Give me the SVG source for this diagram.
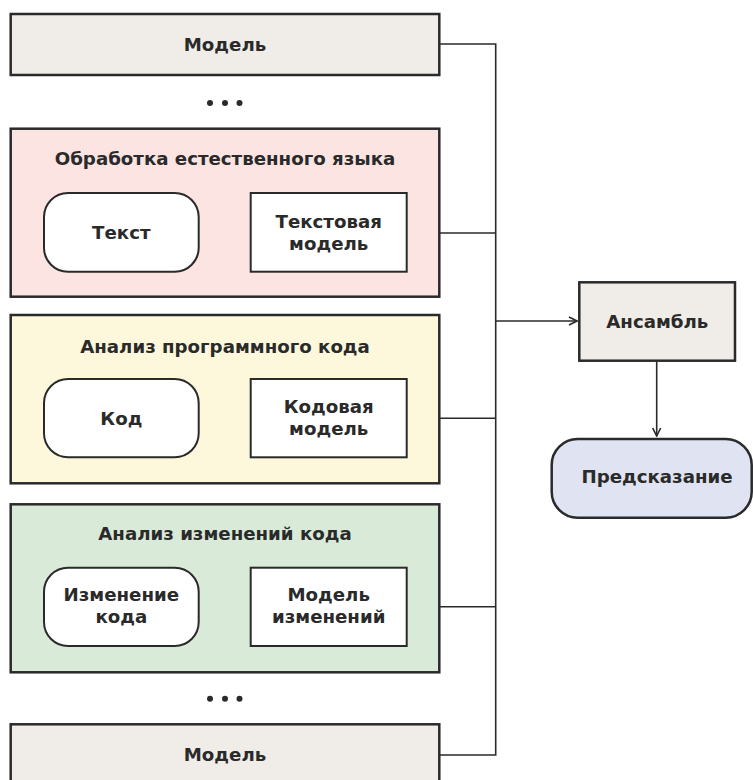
<svg xmlns="http://www.w3.org/2000/svg" width="753" height="780" viewBox="0 0 753 780">
<defs>
<style>
.t{font-family:"DejaVu Sans","Open Sans",sans-serif;font-weight:700;font-size:18.2px;fill:#2a2a2a;text-anchor:middle}
.outer{stroke:#2a2a2a;stroke-width:2.5}
.inner{fill:#ffffff;stroke:#2a2a2a;stroke-width:2}
.c{fill:none;stroke:#2a2a2a;stroke-width:1.6}
.dot{fill:#2a2a2a}
</style>
<marker id="ah" viewBox="0 0 10 10" refX="9" refY="5" markerWidth="10" markerHeight="10" markerUnits="userSpaceOnUse" orient="auto">
<path d="M1,1 L9,5 L1,9" fill="none" stroke="#2a2a2a" stroke-width="1.6"/>
</marker>
</defs>
<rect width="753" height="780" fill="#ffffff"/>

<g id="connectors">
<path class="c" d="M439,44 H495.7 V755 H439"/>
<path class="c" d="M406.7,233 H495.7"/>
<path class="c" d="M406.7,418.3 H495.7"/>
<path class="c" d="M406.7,606.7 H495.7"/>
<path class="c" d="M495.7,321 H577" marker-end="url(#ah)"/>
<path class="c" d="M656.7,360.7 V436" marker-end="url(#ah)"/>
<path class="c" d="M199,233 H248" marker-end="url(#ah)"/>
<path class="c" d="M199,418.3 H248" marker-end="url(#ah)"/>
<path class="c" d="M199,606.7 H248" marker-end="url(#ah)"/>
</g>

<g id="model-top">
<rect class="outer" x="10.7" y="14" width="428.6" height="61" fill="#f0ede8"/>
<text class="t" x="225" y="51">Модель</text>
</g>

<g id="dots-top">
<circle class="dot" cx="210" cy="103" r="3"/>
<circle class="dot" cx="225" cy="103" r="3"/>
<circle class="dot" cx="239.5" cy="103" r="3"/>
</g>

<g id="nlp">
<rect class="outer" x="10.7" y="128.7" width="428.6" height="168" fill="#fce4e2"/>
<text class="t" x="225" y="165">Обработка естественного языка</text>
</g>
<g id="text-node">
<rect class="inner" x="44" y="193" width="154.7" height="78.7" rx="24"/>
<text class="t" x="121.3" y="239.3">Текст</text>
</g>
<g id="text-model">
<rect class="inner" x="250.7" y="193" width="156" height="78.7"/>
<text class="t"><tspan x="328.7" y="228">Текстовая</tspan><tspan x="328.7" y="249.8">модель</tspan></text>
</g>

<g id="code-analysis">
<rect class="outer" x="10.7" y="315" width="428.6" height="168.3" fill="#fdf8dc"/>
<text class="t" x="225" y="352.6">Анализ программного кода</text>
</g>
<g id="code-node">
<rect class="inner" x="44" y="379" width="154.7" height="78.3" rx="24"/>
<text class="t" x="121.3" y="425.3">Код</text>
</g>
<g id="code-model">
<rect class="inner" x="250.7" y="379" width="156" height="78.3"/>
<text class="t"><tspan x="328.7" y="413">Кодовая</tspan><tspan x="328.7" y="434.8">модель</tspan></text>
</g>

<g id="change-analysis">
<rect class="outer" x="10.7" y="504.3" width="428.6" height="168" fill="#d9ead8"/>
<text class="t" x="225" y="540.4">Анализ изменений кода</text>
</g>
<g id="change-node">
<rect class="inner" x="44" y="567.7" width="154.7" height="78.3" rx="24"/>
<text class="t"><tspan x="121.3" y="601.4">Изменение</tspan><tspan x="121.3" y="623.2">кода</tspan></text>
</g>
<g id="change-model">
<rect class="inner" x="250.7" y="567.7" width="156" height="78.3"/>
<text class="t"><tspan x="328.7" y="601.4">Модель</tspan><tspan x="328.7" y="623.2">изменений</tspan></text>
</g>

<g id="dots-bottom">
<circle class="dot" cx="210" cy="698.7" r="3"/>
<circle class="dot" cx="225" cy="698.7" r="3"/>
<circle class="dot" cx="239.5" cy="698.7" r="3"/>
</g>

<g id="model-bottom">
<rect class="outer" x="10.7" y="724.3" width="428.6" height="62" fill="#f0ede8"/>
<text class="t" x="225" y="761">Модель</text>
</g>

<g id="ensemble">
<rect class="outer" x="579.3" y="282.3" width="155.7" height="78.4" fill="#f0ede8" stroke-width="2"/>
<text class="t" x="657.3" y="328.3">Ансамбль</text>
</g>

<g id="prediction">
<rect class="outer" x="551.7" y="439" width="200" height="78.7" rx="26" fill="#dfe3f2"/>
<text class="t" x="657" y="482.8">Предсказание</text>
</g>
</svg>
